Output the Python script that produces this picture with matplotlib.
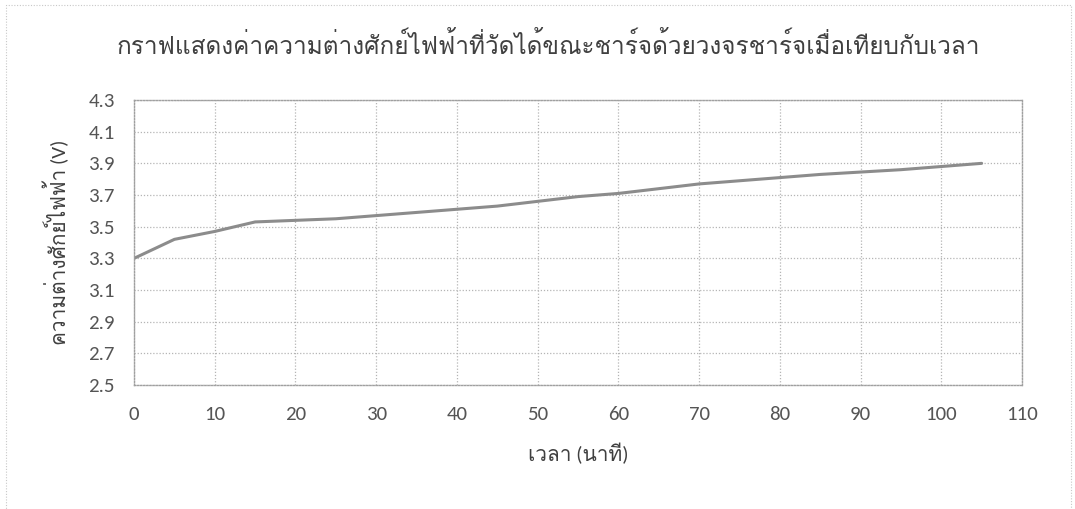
import matplotlib
matplotlib.use("Agg")
import matplotlib.pyplot as plt
import numpy as np

# ข้อมูลการชาร์จ: เวลา (นาที) และแรงดัน (V)
time_min = [0, 5, 10, 15, 20, 25, 30, 35, 40, 45, 50,
            55, 60, 65, 70, 75, 80, 85, 90, 95, 100, 105]
voltage = [3.30, 3.42, 3.47, 3.53, 3.54, 3.55, 3.57, 3.59, 3.61, 3.63, 3.66,
           3.69, 3.71, 3.74, 3.77, 3.79, 3.81, 3.83, 3.845, 3.86, 3.88, 3.90]

x_ticks = np.arange(0, 111, 10)
y_ticks = np.round(np.arange(2.5, 4.31, 0.2), 1)

plt.rcParams['font.family'] = ['Carlito', 'Loma', 'DejaVu Sans']

fig = plt.figure(figsize=(10.75, 5.09), dpi=100)
ax = fig.add_axes([0.1247, 0.2436, 0.826, 0.5599])

ax.plot(time_min, voltage, color='#8c8c8c', linewidth=2.2, solid_capstyle='round')

ax.set_xlim(0, 110)
ax.set_ylim(2.5, 4.3)
ax.set_xticks(x_ticks)
ax.set_yticks(y_ticks)
ax.set_yticklabels([f'{v:.1f}' for v in y_ticks])
ax.tick_params(length=0, labelsize=15, colors='#555555')
ax.tick_params(axis='x', pad=15)
ax.tick_params(axis='y', pad=14)

ax.grid(True, color='#b5b5b5', linestyle=(0, (1, 1.5)), linewidth=0.9)
for s in ax.spines.values():
    s.set_color('#a0a0a0')
    s.set_linestyle((0, (1, 1.2)))
    s.set_linewidth(1.0)

fig.text(0.51, 0.912, 'กราฟแสดงค่าความต่างศักย์ไฟฟ้าที่วัดได้ขณะชาร์จด้วยวงจรชาร์จเมื่อเทียบกับเวลา',
         ha='center', va='center', fontsize=17.5, color='#404040')
ax.set_xlabel('เวลา (นาที)', fontsize=15, color='#404040', labelpad=14)
ax.set_ylabel('ความต่างศักย์ไฟฟ้า (V)', fontsize=15, color='#404040', labelpad=14)

# กรอบรอบพื้นที่แผนภูมิ
fig.patches.append(plt.Rectangle((0.006, -0.05), 0.99, 1.04, transform=fig.transFigure,
                                 fill=False, edgecolor='#c8c8c8', linewidth=0.8,
                                 linestyle=(0, (1, 1.5))))

fig.savefig('out.png', dpi=100, facecolor='white')
